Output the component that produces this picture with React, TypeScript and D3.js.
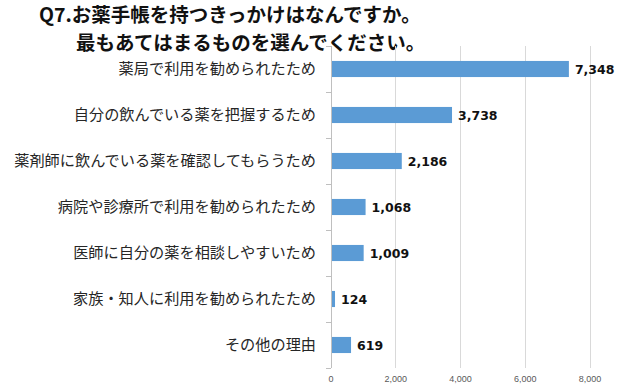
import React, { useEffect, useRef } from 'react';
import * as d3 from 'd3';

// Q7 reasons for holding a medication notebook
const categories = [
  '薬局で利用を勧められたため',
  '自分の飲んでいる薬を把握するため',
  '薬剤師に飲んでいる薬を確認してもらうため',
  '病院や診療所で利用を勧められたため',
  '医師に自分の薬を相談しやすいため',
  '家族・知人に利用を勧められたため',
  'その他の理由',
];
const counts = [7348, 3738, 2186, 1068, 1009, 124, 619];
const xTicks = [0, 2000, 4000, 6000, 8000];
const titleLines = ['Q7.お薬手帳を持つきっかけはなんですか。', '最もあてはまるものを選んでください。'];

const W = 623, H = 391;

export default function App() {
  const ref = useRef<SVGSVGElement>(null);

  useEffect(() => {
    const el = ref.current;
    if (!el) return;
    const svg = d3.select(el);
    svg.selectAll('*').remove();

    const plot = { left: 331, right: 590, top: 46, bottom: 368 };
    const x = d3.scaleLinear().domain([0, 8000]).range([plot.left, plot.right]);
    const y = d3.scaleBand<string>().domain(categories).range([plot.top, plot.bottom])
      .paddingInner(0.65).paddingOuter(0.325);

    svg.append('rect').attr('width', W).attr('height', H).attr('fill', '#fff');

    // title
    const jp = '"Noto Sans CJK JP", "Noto Sans", sans-serif';
    svg.append('text').attr('x', 39).attr('y', 22).attr('font-family', jp).attr('font-weight', 700)
      .attr('font-size', 19.5).attr('fill', '#111').text(titleLines[0]);
    svg.append('text').attr('x', 76).attr('y', 50).attr('font-family', jp).attr('font-weight', 700)
      .attr('font-size', 19.5).attr('fill', '#111').text(titleLines[1]);

    // vertical grid
    svg.append('g').selectAll('line').data(xTicks.slice(1)).enter().append('line')
      .attr('x1', d => x(d)).attr('x2', d => x(d)).attr('y1', plot.top).attr('y2', plot.bottom)
      .attr('stroke', '#d9d9d9').attr('stroke-width', 1).attr('shape-rendering', 'crispEdges');

    // x tick labels
    svg.append('g').selectAll('text').data(xTicks).enter().append('text')
      .attr('x', d => x(d)).attr('y', 382).attr('text-anchor', 'middle')
      .attr('font-family', '"Liberation Sans", Arial, sans-serif').attr('font-size', 9).attr('fill', '#595959')
      .text(d => d3.format(',')(d));

    // category axis
    svg.append('line').attr('x1', plot.left).attr('x2', plot.left).attr('y1', plot.top).attr('y2', plot.bottom)
      .attr('stroke', '#bfbfbf').attr('shape-rendering', 'crispEdges');
    const bounds = categories.map(c => (y(c) as number) - y.step() * 0.325).concat([plot.bottom]);
    svg.append('g').selectAll('line').data(bounds).enter().append('line')
      .attr('x1', plot.left - 5).attr('x2', plot.left).attr('y1', d => d).attr('y2', d => d)
      .attr('stroke', '#bfbfbf').attr('shape-rendering', 'crispEdges');

    svg.append('g').selectAll('text').data(categories).enter().append('text')
      .attr('x', 316).attr('y', d => (y(d) as number) + y.bandwidth() / 2)
      .attr('dy', '0.36em').attr('text-anchor', 'end')
      .attr('font-family', jp).attr('font-size', 15.2).attr('fill', '#262626').text(d => d);

    // bars
    svg.append('g').selectAll('rect').data(counts).enter().append('rect')
      .attr('x', x(0) + 1).attr('y', (_, i) => y(categories[i]) as number)
      .attr('width', d => x(d) - x(0) - 1).attr('height', y.bandwidth())
      .attr('fill', '#5b9bd5');

    // value labels
    svg.append('g').selectAll('text').data(counts).enter().append('text')
      .attr('x', d => x(d) + 6).attr('y', (_, i) => (y(categories[i]) as number) + y.bandwidth() / 2)
      .attr('dy', '0.36em').attr('font-family', '"DejaVu Sans", sans-serif').attr('font-weight', 700)
      .attr('font-size', 12.5).attr('fill', '#111').text(d => d3.format(',')(d));
  }, []);

  return (
    <svg ref={ref} width={W} height={H}
      style={{ position: 'absolute', left: 0, top: 0, display: 'block' }} />
  );
}
